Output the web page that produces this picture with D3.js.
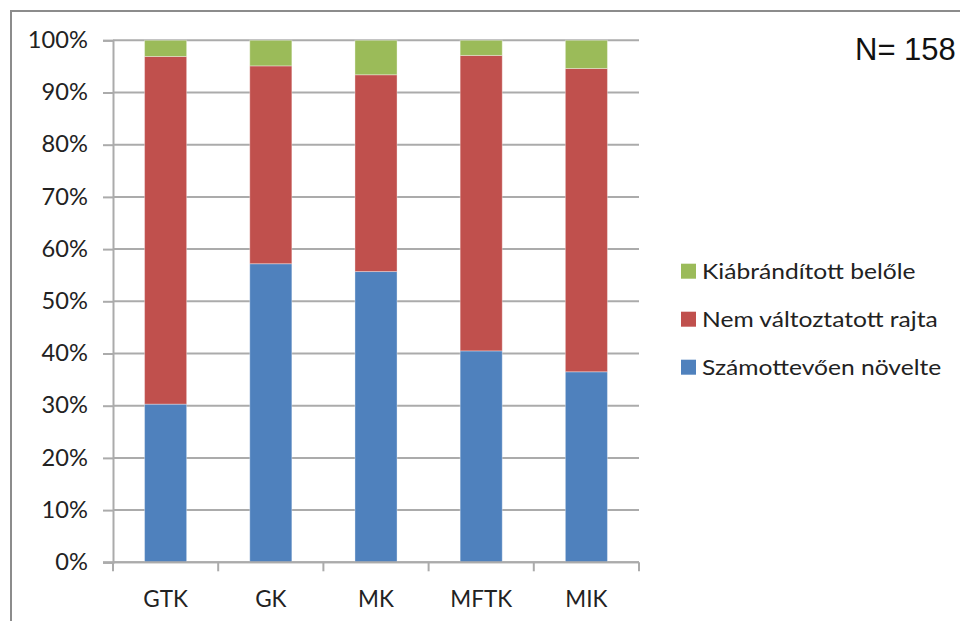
<!DOCTYPE html>
<html><head><meta charset="utf-8">
<script src="https://cdn.jsdelivr.net/npm/d3@7"></script>
<style>body{margin:0;background:#fff;}svg{display:block;}</style>
</head><body>
<svg id="c" width="960" height="621"></svg>
<script>
const categories = ["GTK", "GK", "MK", "MFTK", "MIK"];
const szamottevoen = [30.3, 57.2, 55.7, 40.5, 36.5];
const nemValtoztatott = [66.6, 37.9, 37.7, 56.6, 58.1];
const kiabranditott = [3.1, 4.9, 6.6, 2.9, 5.4];
const seriesNames = ["Számottevően növelte", "Nem változtatott rajta", "Kiábrándított belőle"];
const seriesColors = ["#4F81BD", "#C0504D", "#9BBB59"];
const yTicks = [0, 10, 20, 30, 40, 50, 60, 70, 80, 90, 100];
const nLabel = "N= 158";

(function () {
const svg = d3.select("#c");
const font = "Lato, 'Open Sans', sans-serif";

svg.append("rect").attr("x", 11).attr("y", 11).attr("width", 1000).attr("height", 700)
  .attr("fill", "none").attr("stroke", "#8c8c8c").attr("stroke-width", 2);

const pLeft = 113, pRight = 639, pTop = 40.3, pBottom = 562.3;
const x = d3.scaleBand().domain(categories).range([pLeft, pRight]).paddingInner(0.6).paddingOuter(0.3);
const y = d3.scaleLinear().domain([0, 100]).range([pBottom, pTop]);

const gridColor = "#ababab";
svg.append("g").selectAll("line").data(yTicks).join("line")
  .attr("x1", pLeft).attr("x2", pRight)
  .attr("y1", d => y(d)).attr("y2", d => y(d))
  .attr("stroke", gridColor).attr("stroke-width", 2);

const yAxis = svg.append("g").attr("transform", `translate(${pLeft},0)`)
  .call(d3.axisLeft(y).tickValues(yTicks).tickSize(10).tickPadding(14).tickFormat(d => d + "%"));
yAxis.select(".domain").attr("stroke", gridColor).attr("stroke-width", 2);
yAxis.selectAll(".tick line").attr("stroke", gridColor).attr("stroke-width", 2);
yAxis.selectAll("text").attr("font-family", font).attr("font-size", 22.5).attr("fill", "#222")
  .attr("transform", "scale(1.05,1)");

const rows = categories.map((c, i) => ({cat: c, s0: szamottevoen[i], s1: nemValtoztatott[i], s2: kiabranditott[i]}));
const stacked = d3.stack().keys(["s0", "s1", "s2"])(rows);

svg.append("g").selectAll("g").data(stacked).join("g")
  .attr("fill", (d, i) => seriesColors[i])
  .selectAll("rect").data(d => d).join("rect")
  .attr("x", d => x(d.data.cat))
  .attr("width", x.bandwidth())
  .attr("y", d => y(d[1]))
  .attr("height", d => y(d[0]) - y(d[1]))
  .attr("stroke", "rgba(255,255,255,0.35)").attr("stroke-width", 1);

const step = x.step();
const boundaries = d3.range(categories.length + 1).map(i => pLeft + i * step);
svg.append("line").attr("x1", pLeft - 10).attr("x2", pRight).attr("y1", pBottom).attr("y2", pBottom)
  .attr("stroke", gridColor).attr("stroke-width", 2);
svg.append("g").selectAll("line").data(boundaries).join("line")
  .attr("x1", d => d).attr("x2", d => d).attr("y1", pBottom).attr("y2", pBottom + 9)
  .attr("stroke", gridColor).attr("stroke-width", 2);
svg.append("g").selectAll("text").data(categories).join("text")
  .attr("x", d => x(d) + x.bandwidth() / 2).attr("y", 607)
  .attr("text-anchor", "middle").attr("font-family", font).attr("font-size", 22.5).attr("fill", "#222")
  .text(d => d);

const legendItems = [2, 1, 0];
const lg = svg.append("g");
legendItems.forEach((si, k) => {
  const cy = 271.7 + k * 48;
  lg.append("rect").attr("x", 681).attr("y", cy - 8).attr("width", 15).attr("height", 15).attr("fill", seriesColors[si]);
  const t = lg.append("text").attr("x", 702).attr("y", cy + 7.5).attr("font-family", font).attr("font-size", 20.5)
    .attr("fill", "#222").text(seriesNames[si]);
  const w = t.node().getComputedTextLength();
  t.attr("textLength", w * 1.2).attr("lengthAdjust", "spacingAndGlyphs");
});

svg.append("text").attr("x", 855).attr("y", 60).attr("font-family", "'Liberation Sans', Arial, sans-serif")
  .attr("font-size", 31).attr("fill", "#111").text(nLabel);
})();
</script>
</body></html>
